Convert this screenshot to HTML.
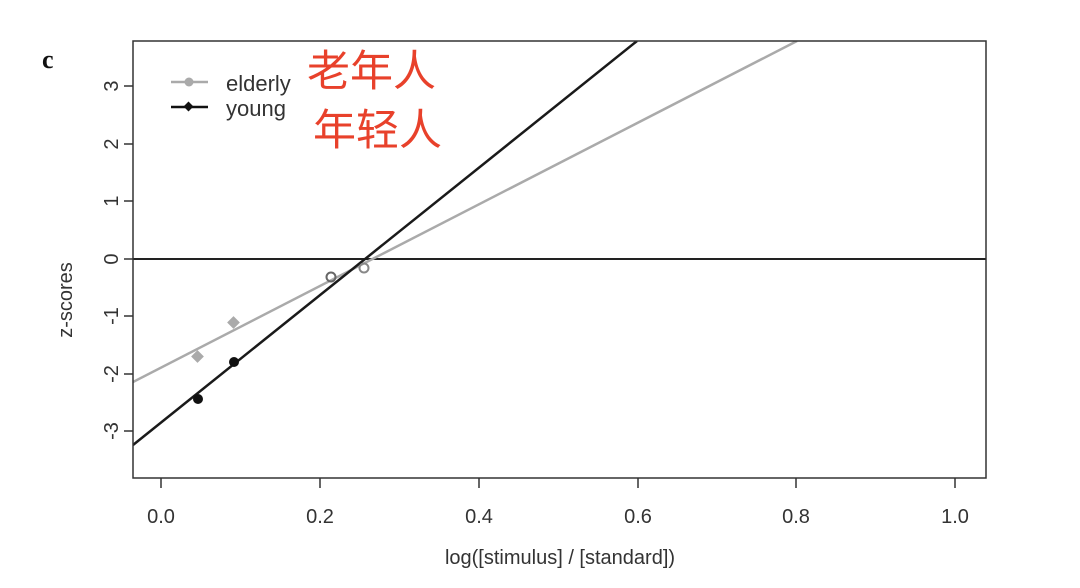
<!DOCTYPE html>
<html><head><meta charset="utf-8"><style>
html,body{margin:0;padding:0;background:#fff;}
svg{display:block;}
text{font-family:"Liberation Sans",sans-serif;fill:#333;}
</style></head><body>
<svg width="1080" height="588" viewBox="0 0 1080 588">
<rect x="0" y="0" width="1080" height="588" fill="#fff"/>
<defs><clipPath id="c"><rect x="133" y="41" width="853" height="437"/></clipPath></defs>
<g clip-path="url(#c)">
<line x1="133" y1="259" x2="986" y2="259" stroke="#222" stroke-width="2"/>
<line x1="133" y1="382" x2="797" y2="41" stroke="#aaa" stroke-width="2.5"/>
<line x1="133" y1="445" x2="637" y2="41" stroke="#1a1a1a" stroke-width="2.5"/>
</g>
<rect x="133" y="41" width="853" height="437" fill="none" stroke="#333" stroke-width="1.5"/>
<rect x="193" y="352" width="9" height="9" fill="#aaa" transform="rotate(45 197.5 356.5)"/>
<rect x="229" y="318" width="9" height="9" fill="#aaa" transform="rotate(45 233.5 322.5)"/>
<circle cx="198" cy="399" r="5" fill="#111"/>
<circle cx="234" cy="362" r="5" fill="#111"/>
<circle cx="331" cy="277" r="4.5" fill="none" stroke="#666" stroke-width="2"/>
<circle cx="364" cy="268" r="4.5" fill="none" stroke="#888" stroke-width="2"/>
<g stroke="#333" stroke-width="1.5">
<line x1="124" y1="86" x2="133" y2="86"/><line x1="124" y1="144" x2="133" y2="144"/>
<line x1="124" y1="201" x2="133" y2="201"/><line x1="124" y1="259" x2="133" y2="259"/>
<line x1="124" y1="316" x2="133" y2="316"/><line x1="124" y1="374" x2="133" y2="374"/>
<line x1="124" y1="431" x2="133" y2="431"/>
<line x1="161" y1="478" x2="161" y2="488"/><line x1="320" y1="478" x2="320" y2="488"/>
<line x1="479" y1="478" x2="479" y2="488"/><line x1="638" y1="478" x2="638" y2="488"/>
<line x1="796" y1="478" x2="796" y2="488"/><line x1="955" y1="478" x2="955" y2="488"/>
</g>
<g font-size="20" text-anchor="middle">
<text transform="translate(111 86) rotate(-90)" dy="7">3</text>
<text transform="translate(111 144) rotate(-90)" dy="7">2</text>
<text transform="translate(111 201) rotate(-90)" dy="7">1</text>
<text transform="translate(111 259) rotate(-90)" dy="7">0</text>
<text transform="translate(111 316) rotate(-90)" dy="7">-1</text>
<text transform="translate(111 374) rotate(-90)" dy="7">-2</text>
<text transform="translate(111 431) rotate(-90)" dy="7">-3</text>
<text x="161" y="523">0.0</text><text x="320" y="523">0.2</text>
<text x="479" y="523">0.4</text><text x="638" y="523">0.6</text>
<text x="796" y="523">0.8</text><text x="955" y="523">1.0</text>
<text x="560" y="564">log([stimulus] / [standard])</text>
<text transform="translate(72 300) rotate(-90)">z-scores</text>
</g>
<text x="42" y="68" font-weight="bold" font-size="26" style="font-family:'Liberation Serif',serif;fill:#111">c</text>
<line x1="171" y1="82" x2="208" y2="82" stroke="#aaa" stroke-width="2.5"/>
<circle cx="189" cy="82" r="4.5" fill="#aaa"/>
<line x1="171" y1="107" x2="208" y2="107" stroke="#111" stroke-width="2.5"/>
<rect x="185" y="103" width="7" height="7" fill="#111" transform="rotate(45 188.5 106.5)"/>
<text x="226" y="91" font-size="22">elderly</text>
<text x="226" y="116" font-size="22">young</text>
<g font-size="43" style="font-family:'Liberation Sans','Noto Sans CJK SC',sans-serif">
<text x="307" y="86" style="fill:#e8412b">老年人</text>
<text x="313" y="145" style="fill:#e8412b">年轻人</text>
</g>
</svg>
</body></html>
